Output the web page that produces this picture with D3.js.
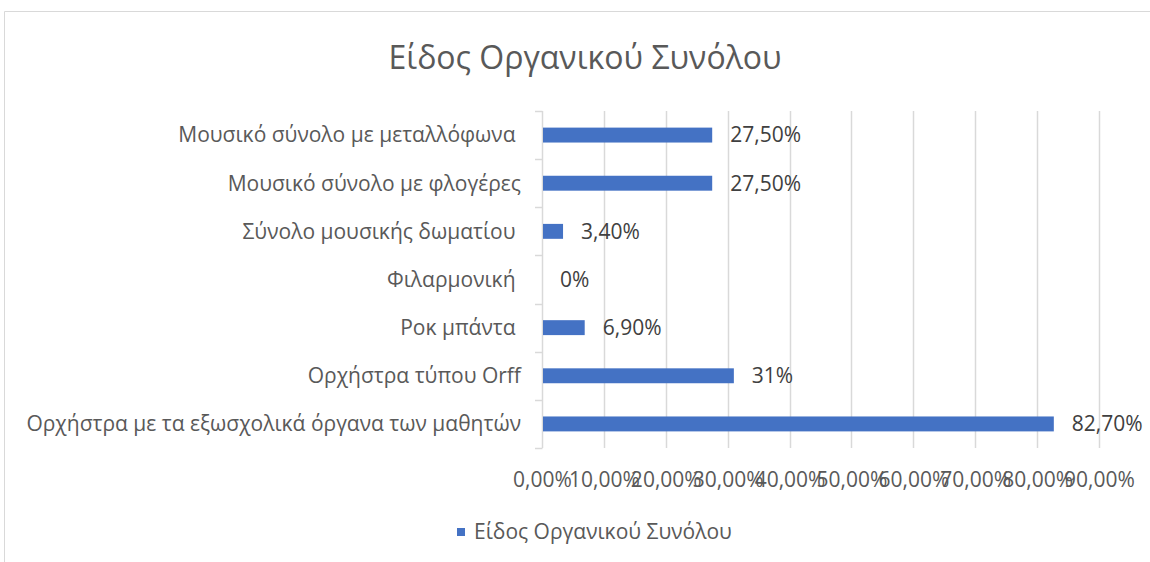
<!DOCTYPE html>
<html>
<head>
<meta charset="utf-8">
<script src="https://cdn.jsdelivr.net/npm/d3@7"></script>
<style>
  body { margin: 0; background: #fff; }
  svg { display: block; font-family: "Open Sans", "Noto Sans", sans-serif; }
  text { white-space: pre; }
</style>
</head>
<body>
<svg id="chart" width="1150" height="562"></svg>
<script>
// chart data
var categories = [
  'Μουσικό σύνολο με μεταλλόφωνα ',
  'Μουσικό σύνολο με φλογέρες',
  'Σύνολο μουσικής δωματίου ',
  'Φιλαρμονική ',
  'Ροκ μπάντα ',
  'Ορχήστρα τύπου Orff',
  'Ορχήστρα με τα εξωσχολικά όργανα των μαθητών'
];
var values = [27.5, 27.5, 3.4, 0, 6.9, 31, 82.7];
var valueLabels = ['27,50%', '27,50%', '3,40%', '0%', '6,90%', '31%', '82,70%'];
var ticks = [0, 10, 20, 30, 40, 50, 60, 70, 80, 90];
var title = 'Είδος Οργανικού Συνόλου';
var seriesName = 'Είδος Οργανικού Συνόλου';

var svg = d3.select('#chart');
var grid = '#d9d9d9';
var fontSize = 21;

// chart area frame
svg.append('path')
  .attr('d', 'M4.5,562 V11.5 H1150')
  .attr('fill', 'none')
  .attr('stroke', grid);

svg.append('text')
  .attr('x', 585)
  .attr('y', 69)
  .attr('text-anchor', 'middle')
  .attr('font-size', 32)
  .attr('fill', '#595959')
  .text(title);

var x = d3.scaleLinear().domain([0, 90]).range([542, 1099]);
var y = d3.scaleBand().domain(categories).range([111, 448]).paddingInner(0.69).paddingOuter(0.345);

// gridlines
svg.append('g').selectAll('line')
  .data(ticks.slice(1))
  .enter().append('line')
  .attr('x1', function(d) { return Math.round(x(d)) + 0.5; })
  .attr('x2', function(d) { return Math.round(x(d)) + 0.5; })
  .attr('y1', 111)
  .attr('y2', 448)
  .attr('stroke', grid)
  .attr('stroke-width', 1.5);

// x axis labels
var xAxis = svg.append('g')
  .attr('transform', 'translate(0,448)')
  .call(d3.axisBottom(x).tickValues(ticks).tickSize(0).tickPadding(24)
    .tickFormat(function(d) { return d3.format('.2f')(d).replace('.', ',') + '%'; }));
xAxis.select('.domain').remove();
xAxis.selectAll('text')
  .attr('font-size', fontSize)
  .attr('font-family', '"Open Sans", "Noto Sans", sans-serif')
  .attr('fill', '#595959');

// category axis with separator ticks
var bandEdges = categories.map(function(c) { return y(c) - y.step() * y.paddingInner() / 2; });
bandEdges.push(448);
svg.append('line')
  .attr('x1', 542.5).attr('x2', 542.5)
  .attr('y1', 111).attr('y2', 448)
  .attr('stroke', grid)
  .attr('stroke-width', 1.5);
svg.append('g').selectAll('line')
  .data(bandEdges)
  .enter().append('line')
  .attr('x1', 535)
  .attr('x2', 542.5)
  .attr('y1', function(d) { return Math.round(d) + 0.5; })
  .attr('y2', function(d) { return Math.round(d) + 0.5; })
  .attr('stroke', grid)
  .attr('stroke-width', 1.5);

svg.append('g').selectAll('text')
  .data(categories)
  .enter().append('text')
  .attr('x', 521)
  .attr('y', function(d) { return y(d) + y.bandwidth() / 2; })
  .attr('dy', '0.35em')
  .attr('text-anchor', 'end')
  .attr('font-size', fontSize)
  .attr('fill', '#595959')
  .text(function(d) { return d; });

// bars
svg.append('g').selectAll('rect')
  .data(values)
  .enter().append('rect')
  .attr('x', x(0) + 1)
  .attr('y', function(d, i) { return y(categories[i]); })
  .attr('width', function(d) { return Math.max(0, x(d) - x(0) - 1); })
  .attr('height', y.bandwidth())
  .attr('fill', '#4472c4');

// value labels
svg.append('g').selectAll('text')
  .data(values)
  .enter().append('text')
  .attr('x', function(d) { return x(d) + 18; })
  .attr('y', function(d, i) { return y(categories[i]) + y.bandwidth() / 2; })
  .attr('dy', '0.35em')
  .attr('font-size', fontSize)
  .attr('fill', '#404040')
  .text(function(d, i) { return valueLabels[i]; });

// legend
var legend = svg.append('g').attr('transform', 'translate(457,532)');
legend.append('rect')
  .attr('x', 0).attr('y', -4)
  .attr('width', 8).attr('height', 8)
  .attr('fill', '#4472c4');
legend.append('text')
  .attr('x', 17)
  .attr('dy', '0.35em')
  .attr('font-size', fontSize)
  .attr('fill', '#595959')
  .text(seriesName);
</script>
</body>
</html>
